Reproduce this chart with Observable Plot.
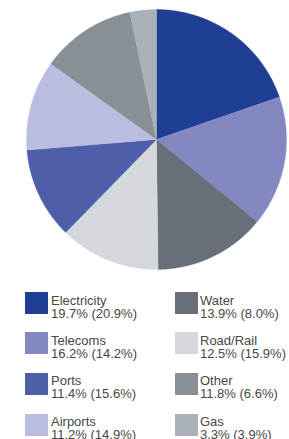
<!DOCTYPE html>
<html>
<head>
<meta charset="utf-8">
<script src="https://cdn.jsdelivr.net/npm/d3@7"></script>
<script src="https://cdn.jsdelivr.net/npm/@observablehq/plot@0.6"></script>
<style>
  html, body { margin: 0; padding: 0; background: #fff; }
  #wrap { position: relative; width: 289px; height: 439px; overflow: hidden; font-family: "Liberation Sans", Arial, Helvetica, sans-serif; }
  #pie { position: absolute; left: 0; top: 0; }
  .sw { position: absolute; width: 23px; height: 22px; }
  .lab { position: absolute; font-size: 13px; line-height: 13px; color: #474747; white-space: nowrap; }
</style>
</head>
<body>
<div id="wrap"><div id="pie"></div></div>
<script>
// Data (clockwise from 12 o'clock)
const categories = ["Electricity", "Telecoms", "Water", "Road/Rail", "Ports", "Airports", "Other", "Gas"];
const shares     = [19.7, 16.2, 13.9, 12.5, 11.4, 11.2, 11.8, 3.3];
const priorShares = [20.9, 14.2, 8.0, 15.9, 15.6, 14.9, 6.6, 3.9];
const colors     = ["#1f3f94", "#8388c1", "#696f79", "#d4d8dc", "#4f5ea9", "#babde0", "#889095", "#a9b0b7"];
// Legend columns
const legendLeft  = ["Electricity", "Telecoms", "Ports", "Airports"];
const legendRight = ["Water", "Road/Rail", "Other", "Gas"];

// Build slice polygons in unit-circle data space
const total = d3.sum(shares);
const pts = [];
let acc = 0;
categories.forEach((c, i) => {
  const a0 = acc / total * 2 * Math.PI;
  acc += shares[i];
  const a1 = acc / total * 2 * Math.PI;
  pts.push({cat: c, x: 0, y: 0});
  const n = Math.max(2, Math.ceil((a1 - a0) / (Math.PI / 360)));
  for (let k = 0; k <= n; k++) {
    const a = a0 + (a1 - a0) * k / n;
    pts.push({cat: c, x: Math.sin(a), y: Math.cos(a)});
  }
  pts.push({cat: c, x: 0, y: 0});
});

const W = 289, H = 280, cx = 156, cy = 139, R = 130;
const chart = Plot.plot({
  width: W, height: H,
  margin: 0,
  x: {domain: [-cx / R, (W - cx) / R], axis: null},
  y: {domain: [-(H - cy) / R, cy / R], axis: null},
  color: {domain: categories, range: colors},
  marks: [
    Plot.line(pts, {x: "x", y: "y", z: "cat", fill: "cat", stroke: "cat", strokeWidth: 0.3, curve: "linear"})
  ]
});
document.getElementById("pie").appendChild(chart);

// Legend
const wrap = document.getElementById("wrap");
const rowTops = [292, 332, 372.5, 413.5];
function addItem(cat, col, row) {
  const i = categories.indexOf(cat);
  const sx = col === 0 ? 25 : 175;
  const tx = col === 0 ? 51 : 200;
  const top = rowTops[row];
  const sw = document.createElement("div");
  sw.className = "sw";
  sw.style.left = sx + "px"; sw.style.top = top + "px"; sw.style.background = colors[i];
  wrap.appendChild(sw);
  const lab = document.createElement("div");
  lab.className = "lab";
  lab.style.left = tx + "px"; lab.style.top = (top + 1.5) + "px";
  const l1 = document.createElement("div"); l1.textContent = cat;
  const l2 = document.createElement("div");
  l2.textContent = shares[i].toFixed(1) + "% (" + priorShares[i].toFixed(1) + "%)";
  lab.appendChild(l1); lab.appendChild(l2);
  wrap.appendChild(lab);
}
legendLeft.forEach((c, r) => addItem(c, 0, r));
legendRight.forEach((c, r) => addItem(c, 1, r));
</script>
</body>
</html>
